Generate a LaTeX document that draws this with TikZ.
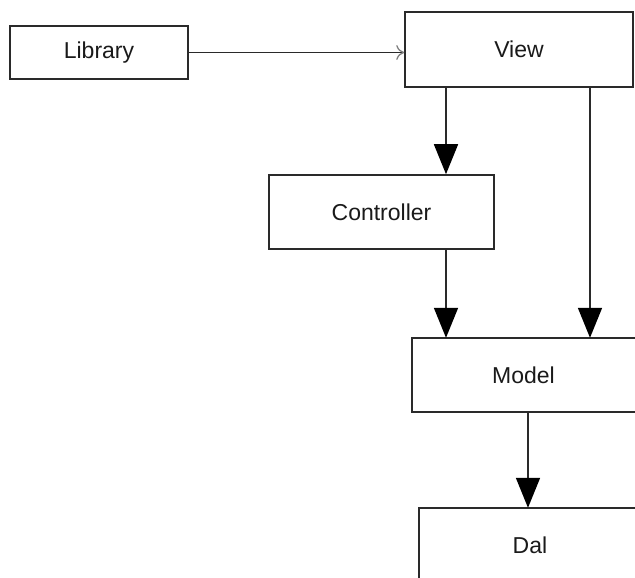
\documentclass[tikz,border=0pt]{standalone}
\usepackage{fontspec}
\setmainfont{Liberation Sans}
\usetikzlibrary{arrows.meta}
\definecolor{edge}{HTML}{2A2A2A}
\definecolor{txt}{HTML}{1A1A1A}
\begin{document}
\begin{tikzpicture}[x=1pt,y=-1pt,
  box/.style={draw=edge,line width=1.6pt,fill=white,inner sep=0pt,
    font=\fontsize{23}{27}\selectfont,text=txt},
  cutbox/.style={inner sep=0pt,font=\fontsize{23}{27}\selectfont,text=txt},
  boxline/.style={draw=edge,line width=1.6pt},
  flow/.style={draw=edge,line width=1.6pt,-{Triangle[width=24pt,length=30pt,color=black]}},
  link/.style={draw=edge,line width=1.3pt,-{To[length=8pt,width=15pt,color=gray]}}]
\useasboundingbox (0,0) rectangle (635,578);
\clip (0,0) rectangle (635,578);
\node[box,minimum width=178pt,minimum height=53pt] (lib) at (99,52.5) {Library};
\node[box,minimum width=228pt,minimum height=75pt] (view) at (519,49.5) {View};
\node[box,minimum width=225pt,minimum height=74pt] (ctrl) at (381.5,212) {Controller};
\node[cutbox,minimum width=223pt,minimum height=74pt] (model) at (523.5,375) {Model};
\node[cutbox,minimum width=222pt,minimum height=74pt] (dal) at (530,545) {Dal};
\draw[boxline] (model.north west) rectangle ([xshift=20pt]model.south east);
\draw[boxline] (dal.north west) rectangle ([xshift=20pt]dal.south east);
\coordinate (xa) at (446,0);
\coordinate (xb) at (590,0);
\coordinate (xc) at (528,0);
\draw[link] (lib.east) -- (lib.east -| view.west);
\draw[flow] (view.south -| xa) -- (ctrl.north -| xa);
\draw[flow] (ctrl.south -| xa) -- (model.north -| xa);
\draw[flow] (view.south -| xb) -- (model.north -| xb);
\draw[flow] (model.south -| xc) -- (dal.north -| xc);
\end{tikzpicture}
\end{document}
